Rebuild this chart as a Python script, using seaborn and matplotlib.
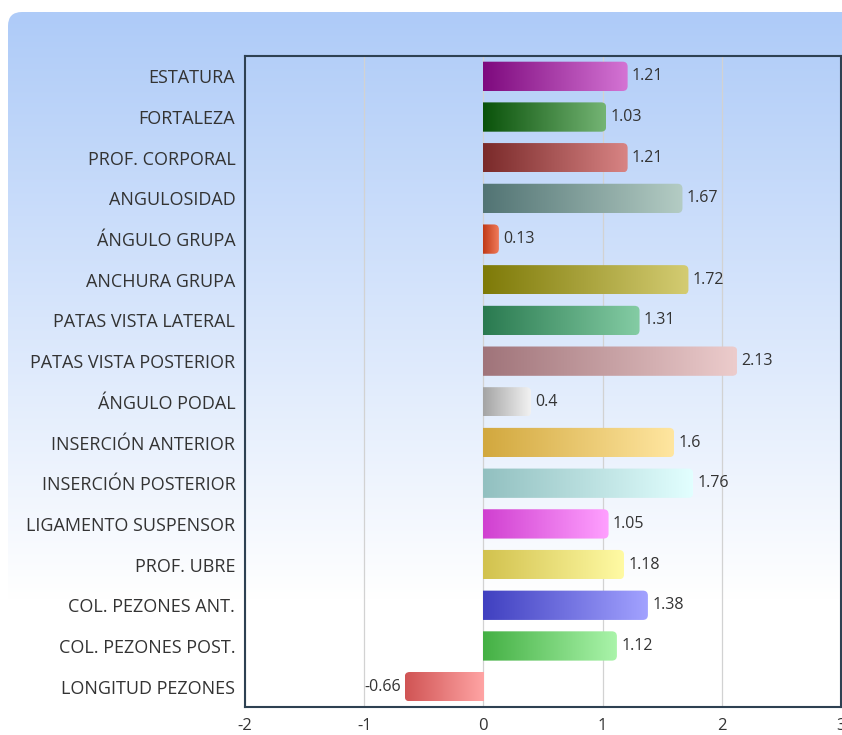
import numpy as np
import pandas as pd
import matplotlib
matplotlib.use("Agg")
import matplotlib.pyplot as plt
import seaborn as sns
from matplotlib.patches import FancyBboxPatch
from matplotlib.colors import to_rgb

categories = ["ESTATURA", "FORTALEZA", "PROF. CORPORAL", "ANGULOSIDAD", "ÁNGULO GRUPA",
              "ANCHURA GRUPA", "PATAS VISTA LATERAL", "PATAS VISTA POSTERIOR", "ÁNGULO PODAL",
              "INSERCIÓN ANTERIOR", "INSERCIÓN POSTERIOR", "LIGAMENTO SUSPENSOR", "PROF. UBRE",
              "COL. PEZONES ANT.", "COL. PEZONES POST.", "LONGITUD PEZONES"]
values = [1.21, 1.03, 1.21, 1.67, 0.13, 1.72, 1.31, 2.13, 0.4, 1.6, 1.76, 1.05, 1.18, 1.38, 1.12, -0.66]
dark_colors = ["#7e0a7e", "#0a520a", "#7a2a2a", "#527474", "#c03a16", "#7e7a08", "#2a7a50", "#a0747a",
               "#a4a4a4", "#d2a83e", "#92c0c0", "#d040d0", "#d2c24e", "#4040c0", "#44b044", "#d05454"]
light_colors = ["#d474d4", "#74b474", "#d88484", "#b4ccc4", "#f07a5a", "#d4cc72", "#84cca4", "#eccccc",
                "#f2f2f2", "#ffe6a0", "#e2ffff", "#ffa0ff", "#fffaa4", "#a2a2ff", "#aaf4aa", "#ffa4a4"]
xticks = [-2, -1, 0, 1, 2, 3]

df = pd.DataFrame({"trait": categories, "value": values})

sns.set_style("white")
plt.rcParams["font.family"] = ["Open Sans", "DejaVu Sans"]

fig = plt.figure(figsize=(8.42, 7.35), dpi=100)
fig.patch.set_facecolor("white")

# background panel with vertical blue -> white gradient
bg = fig.add_axes([0, 0, 1, 1], zorder=-1)
bg.set_xlim(0, 842)
bg.set_ylim(735, 0)
bg.axis("off")
grad = np.linspace(0, 1, 256)[:, None]
top = np.array(to_rgb("#aecbf8"))
img = top[None, None, :] * (1 - grad[..., None]) + np.ones(3)[None, None, :] * grad[..., None]
im = bg.imshow(img, extent=[0, 860, 600, 12], aspect="auto", interpolation="bilinear")
panel = FancyBboxPatch((8, 12), 900, 800, boxstyle="round,pad=0,rounding_size=14",
                       transform=bg.transData, facecolor="none", edgecolor="none")
bg.add_patch(panel)
im.set_clip_path(panel)

ax = fig.add_axes([245 / 842, 1 - 707 / 735, 596 / 842, (707 - 56) / 735])
ax.set_facecolor("none")
sns.barplot(data=df, x="value", y="trait", orient="h", color="#888888", width=0.72, ax=ax)

ax.set_xlim(-2, 3)
ax.set_ylim(15.5, -0.5)

# rounded ends of the bars: radius in data units for x and y
px_x = 5 / 596
px_y = 16 / (707 - 56)
r = 5 * px_x
for patch, c0, c1 in zip(ax.patches, dark_colors, light_colors):
    x0 = min(patch.get_x(), patch.get_x() + patch.get_width())
    x1 = max(patch.get_x(), patch.get_x() + patch.get_width())
    y0 = patch.get_y()
    h = patch.get_height()
    patch.set_visible(False)
    t = np.linspace(0, 1, 128)[None, :, None]
    g = np.array(to_rgb(c0)) * (1 - t) + np.array(to_rgb(c1)) * t
    gi = ax.imshow(g, extent=[x0, x1, y0 + h, y0], aspect="auto", interpolation="bilinear", zorder=2)
    if patch.get_width() >= 0:
        cx = x0 - r
    else:
        cx = x0
    clip = FancyBboxPatch((cx, y0), (x1 - x0) + r, h,
                          boxstyle=f"round,pad=0,rounding_size={r}", mutation_aspect=px_y / px_x,
                          transform=ax.transData, facecolor="none", edgecolor="none")
    ax.add_patch(clip)
    gi.set_clip_path(clip)

ax.set_xlim(-2, 3)
ax.set_ylim(15.5, -0.5)

ax.bar_label(ax.containers[0], labels=[f"{v:g}" for v in values], padding=3,
             fontsize=11.5, color="#333333")

ax.set_xticks(xticks)
ax.set_xticklabels([str(v) for v in xticks])
ax.grid(axis="x", color="#d2d2d2", linewidth=0.9)
ax.set_axisbelow(True)
ax.set_xlabel("")
ax.set_ylabel("")
ax.tick_params(axis="both", length=0, colors="#333333")
ax.tick_params(axis="y", pad=7, labelsize=13)
ax.tick_params(axis="x", pad=8, labelsize=12)
for s in ax.spines.values():
    s.set_visible(True)
    s.set_color("#2e4152")
    s.set_linewidth(1.5)

fig.savefig("out.png", dpi=100)
